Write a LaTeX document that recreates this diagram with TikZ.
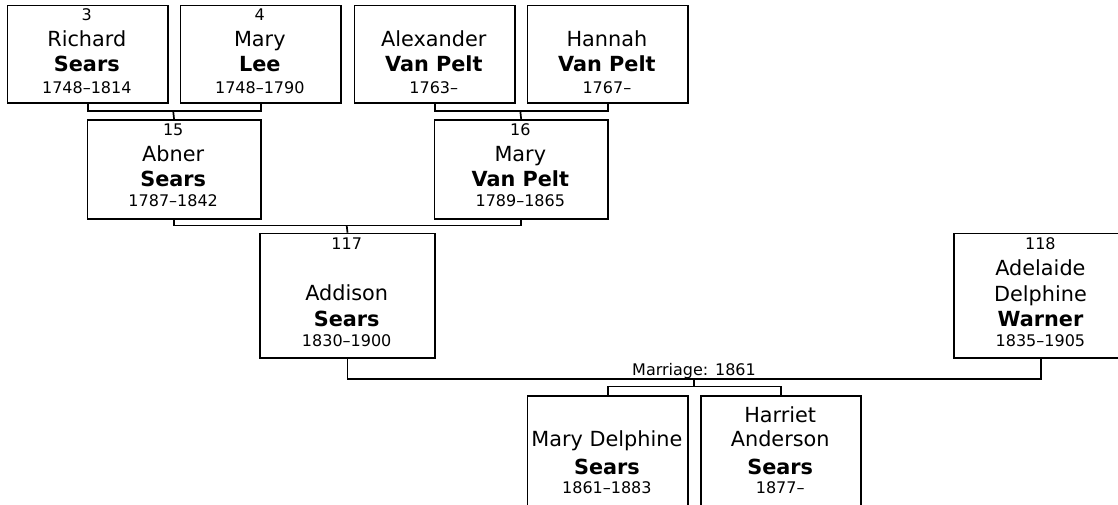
\documentclass[tikz,border=0pt]{standalone}
\usepackage{fontspec}
\setmainfont{DejaVu Sans}
\begin{document}
\begin{tikzpicture}[x=1pt,y=-1pt,
  pbox/.style={draw, line width=1.7pt, inner sep=0pt, anchor=north west, minimum width=160.4pt},
  sm/.style={font=\fontsize{16}{19}\selectfont, anchor=base, inner sep=0pt},
  nm/.style={font=\fontsize{20.8}{25}\selectfont, anchor=base, inner sep=0pt},
  bn/.style={font=\fontsize{20.8}{25}\selectfont\bfseries, anchor=base, inner sep=0pt},
  link/.style={line width=1.7pt}]
\useasboundingbox (0,0) rectangle (1118,505);
\fill[white] (0,0) rectangle (1118,505);
\begin{scope}
\clip (0,0) rectangle (1118,505);
% ---- row 1 ----
\node[pbox, minimum height=97.6pt] (p3) at (6.6,4.7) {};
\node[pbox, minimum height=97.6pt] (p4) at (179.6,4.7) {};
\node[pbox, minimum height=97.6pt] (pa) at (353.6,4.7) {};
\node[pbox, minimum height=97.6pt] (ph) at (526.7,4.7) {};
\node[sm] (p3a) at (86.8,20.7) {3};
\node[nm] (p3b) at (86.8,46.7) {Richard};
\node[bn] (p3c) at (86.8,71.9) {Sears};
\node[sm] (p3d) at (86.8,93.3) {1748–1814};
\node[sm] (p4a) at (259.8,20.7) {4};
\node[nm] (p4b) at (259.8,46.7) {Mary};
\node[bn] (p4c) at (259.8,71.9) {Lee};
\node[sm] (p4d) at (259.8,93.3) {1748–1790};
\node[nm] (pab) at (433.8,46.7) {Alexander};
\node[bn] (pac) at (433.8,71.9) {Van Pelt};
\node[sm] (pad) at (433.8,93.3) {1763–};
\node[nm] (phb) at (606.9,46.7) {Hannah};
\node[bn] (phc) at (606.9,71.9) {Van Pelt};
\node[sm] (phd) at (606.9,93.3) {1767–};
% ---- row 2 ----
\node[pbox, minimum width=173.2pt, minimum height=99.3pt] (p15) at (86.6,119) {};
\node[pbox, minimum width=173.2pt, minimum height=99.3pt] (p16) at (433.7,119) {};
\node[sm] (p15a) at (173.2,135.7) {15};
\node[nm] (p15b) at (173.2,161.7) {Abner};
\node[bn] (p15c) at (173.2,186.7) {Sears};
\node[sm] (p15d) at (173.2,206.7) {1787–1842};
\node[sm] (p16a) at (520.3,135.7) {16};
\node[nm] (p16b) at (520.3,161.7) {Mary};
\node[bn] (p16c) at (520.3,186.7) {Van Pelt};
\node[sm] (p16d) at (520.3,206.7) {1789–1865};
% ---- row 3 ----
\node[pbox, minimum width=174.7pt, minimum height=124.6pt] (p117) at (259.3,232.7) {};
\node[pbox, minimum width=174.7pt, minimum height=124.6pt] (p118) at (953,232.7) {};
\node[sm] (p117a) at (346.7,249.3) {117};
\node[nm] (p117b) at (346.7,300) {Addison};
\node[bn] (p117c) at (346.7,326) {Sears};
\node[sm] (p117d) at (346.7,346.7) {1830–1900};
\node[sm] (p118a) at (1040.4,249.3) {118};
\node[nm] (p118b) at (1040.4,275) {Adelaide};
\node[nm] (p118c) at (1040.4,301) {Delphine};
\node[bn] (p118d) at (1040.4,326.7) {Warner};
\node[sm] (p118e) at (1040.4,346.7) {1835–1905};
% ---- children ----
\node[pbox, minimum height=124.6pt] (pmd) at (526.7,395) {};
\node[pbox, minimum height=124.6pt] (pha) at (700,395) {};
\node[nm] (pmdb) at (606.9,446.7) {Mary Delphine};
\node[bn] (pmdc) at (606.9,474) {Sears};
\node[sm] (pmdd) at (606.9,493.3) {1861–1883};
\node[nm] (phaa) at (780.2,422.7) {Harriet};
\node[nm] (phab) at (780.2,446.7) {Anderson};
\node[bn] (phac) at (780.2,474) {Sears};
\node[sm] (phad) at (780.2,493.3) {1877–};
% ---- connectors ----
\coordinate (j34) at (173.2,111);
\draw[link] (p3.south) |- (j34) -| (p4.south);
\draw[link] (j34) -- (p15.north);
\coordinate (jah) at (520.3,111);
\draw[link] (pa.south) |- (jah) -| (ph.south);
\draw[link] (jah) -- (p16.north);
\coordinate (j1516) at (346.7,225.5);
\draw[link] (p15.south) |- (j1516) -| (p16.south);
\draw[link] (j1516) -- (p117.north);
\coordinate (jm) at (694,378.7);
\draw[link] (p117.south) |- (jm) -| (p118.south);
\node[sm] (mlab) at (694,375) {Marriage: 1861};
\coordinate (jc) at (694,386.5);
\draw[link] (jm) -- (jc);
\draw[link] (pmd.north) |- (jc) -| (pha.north);
\end{scope}
\end{tikzpicture}
\end{document}
